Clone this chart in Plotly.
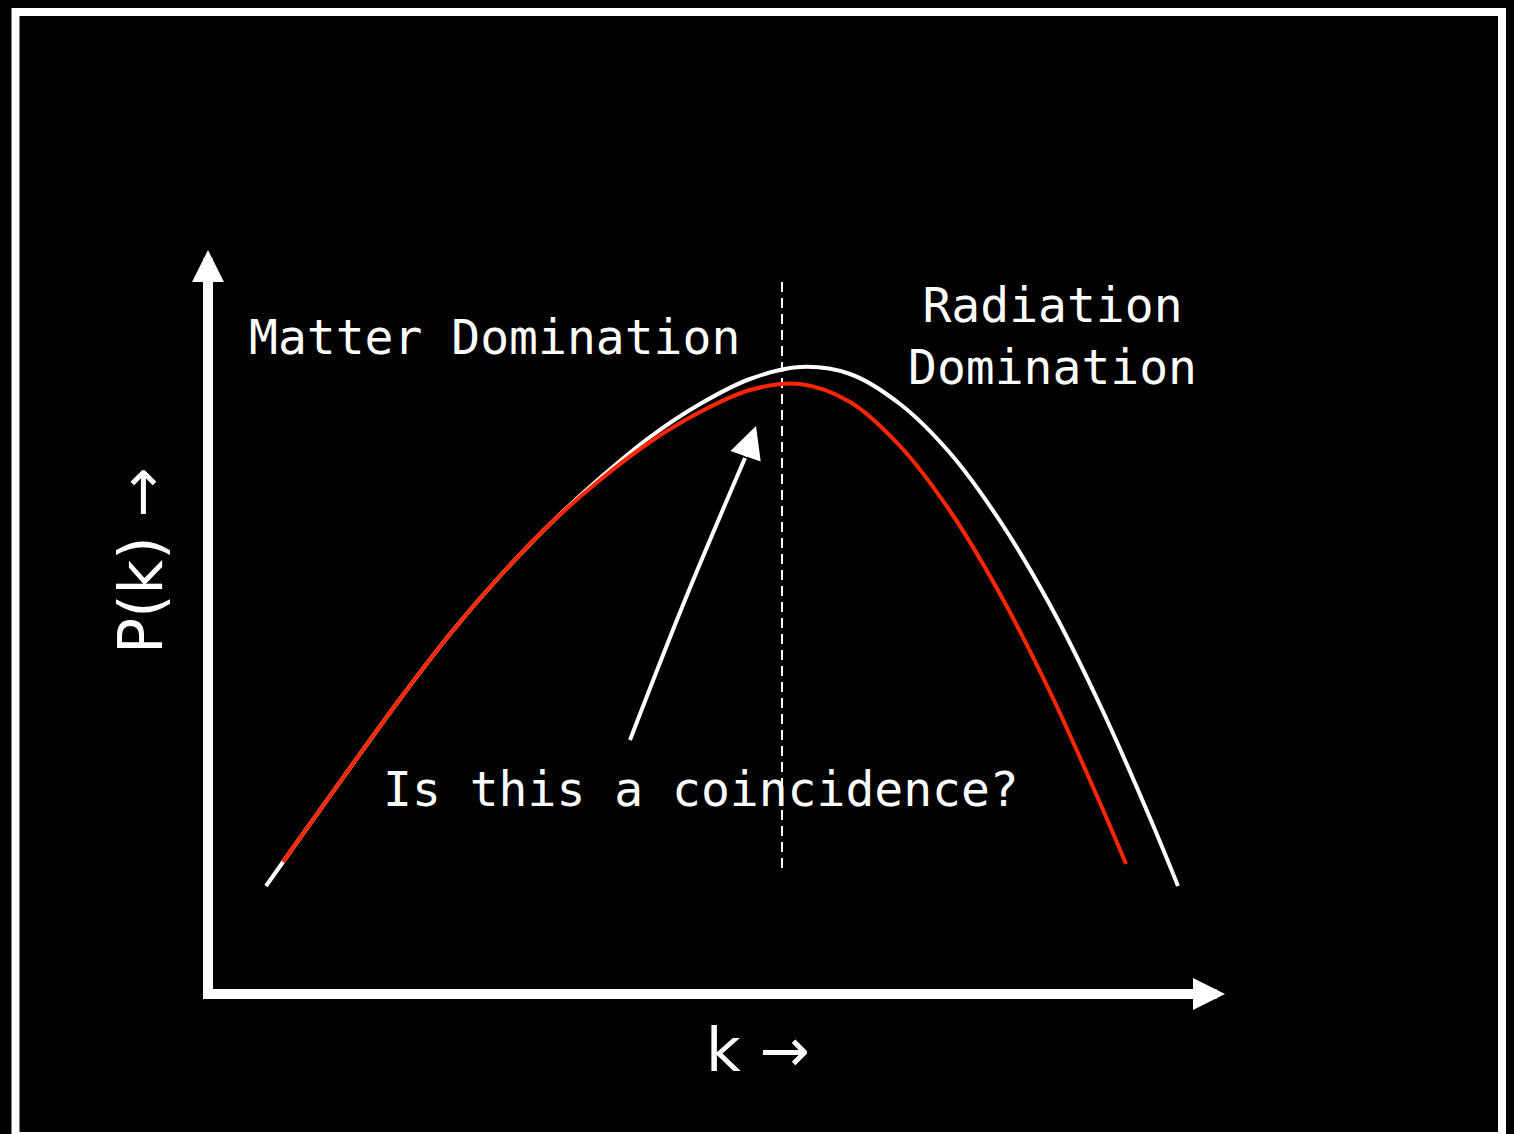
import plotly.graph_objects as go

# ---- data (arbitrary schematic units) ----
white_k = [0.58, 0.92, 1.42, 1.92, 2.42, 2.92, 3.42, 3.92, 4.42, 4.92, 5.42, 5.92,
           6.42, 6.92, 7.42, 7.92, 8.42, 8.92, 9.42, 9.70]
white_P = [1.08, 1.56, 2.26, 2.95, 3.60, 4.18, 4.70, 5.16, 5.57, 5.90, 6.15, 6.27,
           6.20, 5.90, 5.41, 4.73, 3.89, 2.89, 1.76, 1.08]

red_k = [0.75, 0.92, 1.42, 1.92, 2.42, 2.92, 3.42, 3.92, 4.42, 4.92, 5.42, 5.92,
         6.42, 6.92, 7.42, 7.92, 8.42, 8.92, 9.18]
red_P = [1.32, 1.56, 2.26, 2.95, 3.60, 4.18, 4.70, 5.14, 5.52, 5.82, 6.04, 6.10,
         5.92, 5.48, 4.83, 4.00, 3.02, 1.91, 1.30]

divider_k = 5.74
divider_P = [1.26, 7.16]

pointer_k = [4.22, 4.77, 5.37]
pointer_P = [2.54, 3.94, 5.36]
pointer_tip = (5.48, 5.68)

axis_x_tip = 10.17
axis_y_tip = 7.44

label_matter = "Matter Domination"
label_radiation = "Radiation<br>Domination"
label_question = "Is this a coincidence?"
label_k = "k \u2192"
label_P = "P(k) \u2192"

W, H = 1514, 1134
x_range = [-2.08, 13.06]
y_range = [-1.40, 9.94]

fig = go.Figure()

# axes shafts (heads added as annotation arrows below)
fig.add_trace(go.Scatter(x=[-0.05, axis_x_tip - 0.30], y=[0, 0], mode="lines",
                         line=dict(color="white", width=10), hoverinfo="skip"))
fig.add_trace(go.Scatter(x=[0, 0], y=[-0.05, axis_y_tip - 0.30], mode="lines",
                         line=dict(color="white", width=10), hoverinfo="skip"))

# dashed divider
fig.add_trace(go.Scatter(x=[divider_k, divider_k], y=divider_P, mode="lines",
                         line=dict(color="white", width=2, dash="10px,6px"), hoverinfo="skip"))

# curves
fig.add_trace(go.Scatter(x=white_k, y=white_P, mode="lines",
                         line=dict(color="white", width=4, shape="spline", smoothing=1.0),
                         hoverinfo="skip"))
fig.add_trace(go.Scatter(x=red_k, y=red_P, mode="lines",
                         line=dict(color="rgb(255,38,0)", width=4, shape="spline", smoothing=1.0),
                         hoverinfo="skip"))

# pointer arrow shaft
fig.add_trace(go.Scatter(x=pointer_k, y=pointer_P, mode="lines",
                         line=dict(color="white", width=4, shape="spline", smoothing=1.0),
                         hoverinfo="skip"))

# arrow heads
arrow_common = dict(xref="x", yref="y", axref="x", ayref="y", text="", showarrow=True,
                    arrowhead=2, arrowcolor="white")
fig.add_annotation(x=axis_x_tip, y=0, ax=axis_x_tip - 0.6, ay=0,
                   arrowwidth=10, arrowsize=0.64, **arrow_common)
fig.add_annotation(x=0, y=axis_y_tip, ax=0, ay=axis_y_tip - 0.6,
                   arrowwidth=10, arrowsize=0.64, **arrow_common)
fig.add_annotation(x=pointer_tip[0], y=pointer_tip[1], ax=pointer_k[-1], ay=pointer_P[-1],
                   arrowwidth=4, arrowsize=1.6, **arrow_common)

mono = dict(family="DejaVu Sans Mono", size=48, color="white")
sans = dict(family="DejaVu Sans", size=60, color="white")

fig.add_annotation(x=0.39, y=6.57, text=label_matter, showarrow=False,
                   xanchor="left", yanchor="middle", font=mono)
fig.add_annotation(x=8.44, y=6.58, text=label_radiation, showarrow=False,
                   xanchor="center", yanchor="middle", align="center", font=mono)
fig.add_annotation(x=1.73, y=2.05, text=label_question, showarrow=False,
                   xanchor="left", yanchor="middle", font=mono)
fig.add_annotation(x=5.50, y=-0.56, text=label_k, showarrow=False,
                   xanchor="center", yanchor="middle", font=sans)
fig.add_annotation(x=-0.67, y=4.33, text=label_P, showarrow=False, textangle=-90,
                   xanchor="center", yanchor="middle", font=sans)

# white outer frame
fig.add_shape(type="rect", xref="paper", yref="paper",
              x0=15.5 / W, x1=1502 / W, y0=1 - 1136 / H, y1=1 - 12 / H,
              line=dict(color="white", width=8), fillcolor="rgba(0,0,0,0)", layer="below")

fig.update_layout(
    width=W, height=H,
    margin=dict(l=0, r=0, t=0, b=0),
    paper_bgcolor="black", plot_bgcolor="black",
    showlegend=False,
    xaxis=dict(range=x_range, visible=False, fixedrange=True),
    yaxis=dict(range=y_range, visible=False, fixedrange=True),
)

fig.write_html(
    "out.html",
    config={"displayModeBar": False},
    post_script=(
        "document.body.style.margin='0px';"
        "document.body.style.background='black';"
        "document.documentElement.style.background='black';"
        "document.body.style.overflow='hidden';"
    ),
)
